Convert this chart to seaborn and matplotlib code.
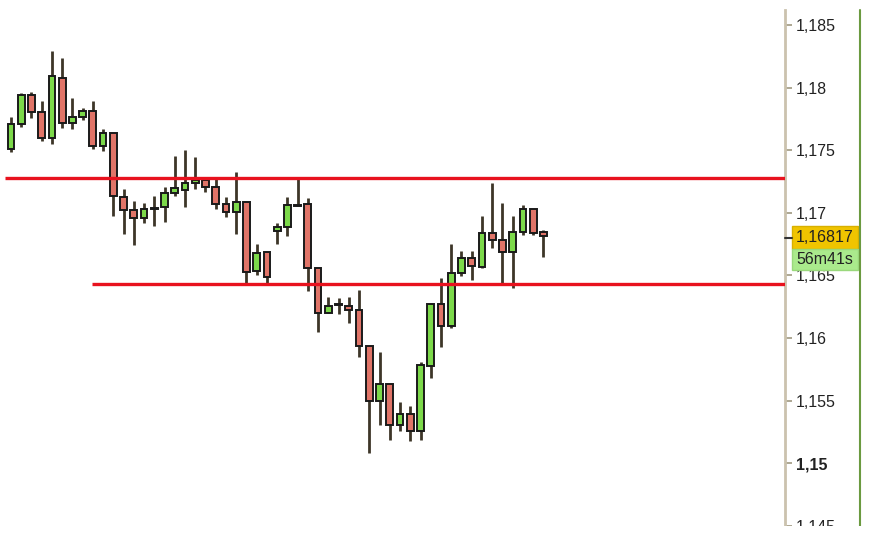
import seaborn as sns
import numpy as np
import matplotlib.pyplot as plt
from matplotlib.patches import Rectangle

# candle data
opens = [1.17506, 1.17705, 1.17943, 1.17808, 1.17601, 1.18079, 1.17720, 1.17768, 1.17816, 1.17530,
         1.17641, 1.17124, 1.17020, 1.16957, 1.17032, 1.17044, 1.17156, 1.17180, 1.17235, 1.17259,
         1.17203, 1.17068, 1.17005, 1.17084, 1.16535, 1.16686, 1.16853, 1.16885, 1.17056, 1.17068,
         1.16559, 1.16201, 1.16261, 1.16257, 1.16225, 1.15939, 1.15501, 1.15636, 1.15310, 1.15398,
         1.15255, 1.15780, 1.16273, 1.16098, 1.16519, 1.16639, 1.16567, 1.16838, 1.16782, 1.16686,
         1.16846, 1.17028, 1.16845]
highs = [1.17768, 1.17959, 1.17967, 1.17896, 1.18293, 1.18238, 1.17919, 1.17840, 1.17896, 1.17673,
         1.17641, 1.17188, 1.17092, 1.17076, 1.17132, 1.17203, 1.17450, 1.17498, 1.17442, 1.17267,
         1.17267, 1.17124, 1.17323, 1.17084, 1.16750, 1.16686, 1.16917, 1.17124, 1.17275, 1.17116,
         1.16559, 1.16328, 1.16320, 1.16328, 1.16384, 1.15939, 1.15891, 1.15636, 1.15493, 1.15461,
         1.15811, 1.16273, 1.16480, 1.16750, 1.16694, 1.16694, 1.16973, 1.17235, 1.17076, 1.16973,
         1.17060, 1.17028, 1.16861]
lows = [1.17482, 1.17689, 1.17760, 1.17577, 1.17553, 1.17681, 1.17673, 1.17744, 1.17506, 1.17490,
        1.16973, 1.16830, 1.16742, 1.16917, 1.16893, 1.16925, 1.17132, 1.17044, 1.17188, 1.17164,
        1.17028, 1.16965, 1.16830, 1.16440, 1.16503, 1.16440, 1.16750, 1.16814, 1.17052, 1.16376,
        1.16050, 1.16201, 1.16193, 1.16122, 1.15851, 1.15080, 1.15310, 1.15183, 1.15255, 1.15175,
        1.15183, 1.15684, 1.15931, 1.16082, 1.16496, 1.16464, 1.16559, 1.16718, 1.16432, 1.16400,
        1.16822, 1.16822, 1.16647]
closes = [1.17705, 1.17943, 1.17808, 1.17601, 1.18094, 1.17720, 1.17768, 1.17816, 1.17530, 1.17641,
          1.17132, 1.17020, 1.16957, 1.17028, 1.17040, 1.17156, 1.17196, 1.17235, 1.17259, 1.17203,
          1.17068, 1.17005, 1.17084, 1.16527, 1.16678, 1.16488, 1.16885, 1.17060, 1.17064, 1.16559,
          1.16201, 1.16257, 1.16269, 1.16225, 1.15939, 1.15501, 1.15636, 1.15310, 1.15398, 1.15255,
          1.15788, 1.16273, 1.16098, 1.16519, 1.16639, 1.16575, 1.16838, 1.16782, 1.16686, 1.16846,
          1.17028, 1.16838, 1.16817]

# horizontal levels: (price, first candle index)
levels = [1.17275, 1.16432]
level_starts = [-0.6, 7.9]

yticks = [1.145, 1.15, 1.155, 1.16, 1.165, 1.17, 1.175, 1.18, 1.185]
last_price = "1,16817"
countdown = "56m41s"

sns.set_theme(style="white")
plt.rcParams['font.family'] = ['Liberation Sans', 'DejaVu Sans']

W, H = 873, 536
fig = plt.figure(figsize=(W / 100, H / 100), dpi=100)
ax = fig.add_axes([0, 1 - 526 / H, 785 / W, 516 / H])

idx = np.arange(len(opens))
o = np.array(opens); c = np.array(closes)
up = c >= o
green = "#7cd94a"
red = "#e07468"
wick = "#3d3628"

ax.vlines(idx, lows, highs, color=wick, lw=2.0, zorder=2)
body = np.where(np.abs(c - o) < 0.00002, 0.00002, c - o)
ax.bar(idx, body, bottom=o, width=0.66, color=np.where(up, green, red),
       edgecolor="#1a1a1a", linewidth=1.4, zorder=3)

xmax = 75.6
for lvl, st in zip(levels, level_starts):
    ax.hlines(lvl, st, xmax, color="#e8121e", lw=2.4, zorder=4)

ax.set_xlim(-1.07, xmax)
ax.set_ylim(1.14515, 1.18619)

sns.despine(ax=ax, left=True, bottom=True, top=True, right=False)
ax.spines['right'].set_color("#cbc2ae")
ax.spines['right'].set_linewidth(2)
ax.yaxis.tick_right()
ax.set_yticks(yticks)
ax.set_yticklabels([("%g" % t).replace(".", ",") for t in yticks], fontsize=11.5, color="#222222")
ax.get_yticklabels()[1].set_fontweight("bold")
ax.tick_params(axis='y', which='major', right=True, direction='out', length=5, width=1.2,
               color="#a09880", pad=3)
ax.set_xticks([])

# right border line
fig.add_artist(plt.Line2D([860 / W, 860 / W], [0, 1 - 10 / H], color="#6b9a40", lw=1.5))

# price tag and countdown
fig.add_artist(plt.Line2D([785 / W, 792 / W], [1 - 238 / H] * 2, color="#333333", lw=1.5))
fig.add_artist(Rectangle((792 / W, 1 - 249 / H), 66 / W, 23 / H, transform=fig.transFigure,
                         facecolor="#f0c400", edgecolor="#d8b000", lw=1))
fig.text(825 / W, 1 - 237.5 / H, last_price, ha="center", va="center", fontsize=11.5, color="#222222")
fig.add_artist(Rectangle((792 / W, 1 - 270 / H), 66 / W, 21 / H, transform=fig.transFigure,
                         facecolor="#aaea8c", edgecolor="#9ad87c", lw=1))
fig.text(825 / W, 1 - 259.5 / H, countdown, ha="center", va="center", fontsize=11.5, color="#222222")

# the bottom strip of the screenshot is blank
fig.add_artist(Rectangle((0, 0), 1, 10 / H, transform=fig.transFigure, facecolor="white",
                         edgecolor="none", zorder=10))

fig.savefig("out.png", dpi=100)
